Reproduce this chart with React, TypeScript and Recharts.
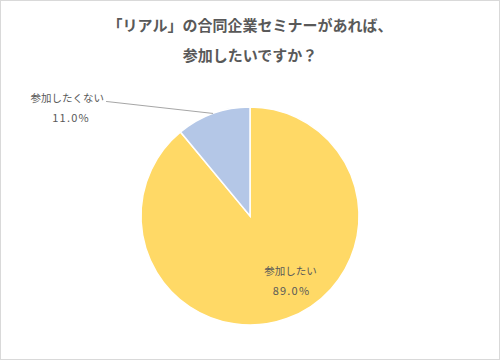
import { PieChart, Pie, Cell } from 'recharts'

const answers = ['参加したい', '参加したくない']
const shares = [89.0, 11.0]
const colors = ['#FFD966', '#B4C7E7']

const data = answers.map((name, i) => ({ name, value: shares[i] }))

const FONT = '"Noto Sans CJK JP", "Noto Sans", sans-serif'
const RAD = Math.PI / 180

function renderLabel(props: any) {
  const { cx, cy, midAngle, outerRadius, index, name, value } = props
  const pct = `${value.toFixed(1)}%`
  const textStyle = { fill: '#595959', fontSize: 10.5, fontFamily: FONT }
  const pctStyle = { fill: '#595959', fontSize: 11, fontFamily: FONT, letterSpacing: 1.2 }
  if (index === 0) {
    // inside label, nudged like Excel's best-fit placement
    const r = outerRadius * 0.69
    const x = cx + r * Math.cos(-midAngle * RAD) + 15
    const y = cy + r * Math.sin(-midAngle * RAD)
    return (
      <g>
        <text x={x} y={y - 16} textAnchor="middle" dominantBaseline="central" {...textStyle}>
          {name}
        </text>
        <text x={x + 1} y={y + 3} textAnchor="middle" dominantBaseline="central" {...pctStyle}>
          {pct}
        </text>
      </g>
    )
  }
  const ox = cx + outerRadius * Math.cos(-midAngle * RAD)
  const oy = cy + outerRadius * Math.sin(-midAngle * RAD)
  const ex = ox - 107
  const ey = oy - 12
  return (
    <g>
      <line x1={ox} y1={oy} x2={ex} y2={ey} stroke="#a6a6a6" strokeWidth={1} />
      <text x={ex - 2} y={ey - 4} textAnchor="end" dominantBaseline="central" {...textStyle}>
        {name}
      </text>
      <text x={ex - 35} y={ey + 16} textAnchor="middle" dominantBaseline="central" {...pctStyle}>
        {pct}
      </text>
    </g>
  )
}

export default function App() {
  return (
    <div
      style={{
        position: 'absolute',
        left: 0,
        top: 0,
        width: 500,
        height: 360,
        boxSizing: 'border-box',
        border: '1px solid #d9d9d9',
        background: '#fff',
        fontFamily: FONT,
      }}
    >
      <div
        style={{
          position: 'absolute',
          left: 0,
          top: 9,
          width: '100%',
          textAlign: 'center',
          color: '#595959',
          fontWeight: 'bold',
          fontSize: 15,
          lineHeight: '30px',
        }}
      >
        「リアル」の合同企業セミナーがあれば、
        <br />
        参加したいですか？
      </div>
      <PieChart
        width={498}
        height={358}
        margin={{ top: 0, right: 0, bottom: 0, left: 0 }}
        style={{ position: 'absolute', left: 0, top: 0 }}
      >
        <Pie
          data={data}
          dataKey="value"
          nameKey="name"
          cx={249}
          cy={215}
          outerRadius={109}
          startAngle={90}
          endAngle={-270}
          stroke="#fff"
          strokeWidth={1.5}
          label={renderLabel}
          labelLine={false}
          isAnimationActive={false}
        >
          {data.map((d, i) => (
            <Cell key={d.name} fill={colors[i]} />
          ))}
        </Pie>
      </PieChart>
    </div>
  )
}
